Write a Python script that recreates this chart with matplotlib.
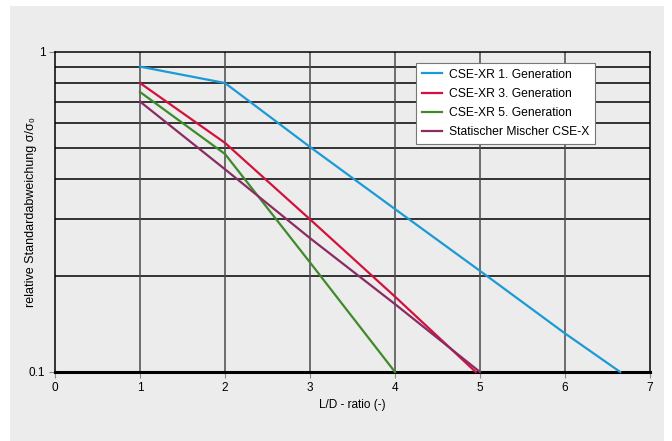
import matplotlib.pyplot as plt
from matplotlib.patches import Rectangle
from matplotlib.ticker import NullFormatter

plt.rcParams['font.family'] = ['Liberation Sans', 'DejaVu Sans']

# values (L/D ratio vs. relative std deviation)
gen1_x = [1, 2, 3, 4, 5, 6, 6.65]
gen1_y = [0.9, 0.8, 0.505, 0.323, 0.207, 0.132, 0.1]
gen3_x = [1, 2, 3, 4, 4.95]
gen3_y = [0.8, 0.52, 0.30, 0.172, 0.1]
gen5_x = [1, 2, 3, 4]
gen5_y = [0.75, 0.48, 0.22, 0.1]
static_x = [1, 2, 3, 4, 5]
static_y = [0.70, 0.43, 0.262, 0.163, 0.1]

labels = ["CSE-XR 1. Generation", "CSE-XR 3. Generation",
          "CSE-XR 5. Generation", "Statischer Mischer CSE-X"]
colors = ["#1c9ad6", "#d4113e", "#3f8a2b", "#8a2b63"]
grid_y = [0.2, 0.3, 0.4, 0.5, 0.6, 0.7, 0.8, 0.9]

BG = "#ebeceb"

fig = plt.figure(figsize=(6.72, 4.41), dpi=100)
fig.patches.append(Rectangle((10 / 672, 0), 654 / 672, 435 / 441,
                             transform=fig.transFigure, facecolor=BG,
                             edgecolor="none", zorder=-1))
ax = fig.add_axes([55 / 672, 69 / 441, 595 / 672, 320 / 441])
ax.set_facecolor(BG)

series = [(gen1_x, gen1_y), (gen3_x, gen3_y), (gen5_x, gen5_y), (static_x, static_y)]
for (xs, ys), lab, col in zip(series, labels, colors):
    ax.plot(xs, ys, color=col, lw=1.6, label=lab, zorder=3, clip_on=False)

ax.set_yscale("log")
ax.set_xlim(0, 7)
ax.set_ylim(0.1, 1)
ax.set_xticks(range(8))
ax.set_yticks([0.1, 1])
ax.set_yticklabels(["0.1", "1"])
ax.set_yticks(grid_y, minor=True)
ax.yaxis.set_minor_formatter(NullFormatter())

for yv in grid_y:
    ax.axhline(yv, color="black", lw=1.1, zorder=1)
for xv in range(1, 7):
    ax.axvline(xv, color="#4a4a4a", lw=1.1, zorder=1)

ax.tick_params(axis="both", which="major", length=4, color="#8a8a8a",
               labelsize=8.5, pad=3)
ax.tick_params(axis="y", which="minor", length=0)

for side in ["left", "top", "right"]:
    ax.spines[side].set_color("black")
    ax.spines[side].set_linewidth(1.1)
ax.spines["bottom"].set_linewidth(2.2)
ax.spines["bottom"].set_color("black")

ax.set_xlabel("L/D - ratio (-)", fontsize=8.5, labelpad=4)
ax.set_ylabel("relative Standardabweichung σ/σ₀", fontsize=9)
ax.yaxis.set_label_coords(-0.03, 0.5)

leg = ax.legend(loc="upper left", bbox_to_anchor=(0.607, 0.965), fontsize=8.7,
                frameon=True, fancybox=False, handlelength=1.7,
                handletextpad=0.6, borderpad=0.45, labelspacing=0.6,
                borderaxespad=0)
leg.get_frame().set_edgecolor("#777777")
leg.get_frame().set_linewidth(0.8)
leg.get_frame().set_facecolor("white")
leg.get_frame().set_alpha(1)

fig.savefig("out.png", dpi=100)
